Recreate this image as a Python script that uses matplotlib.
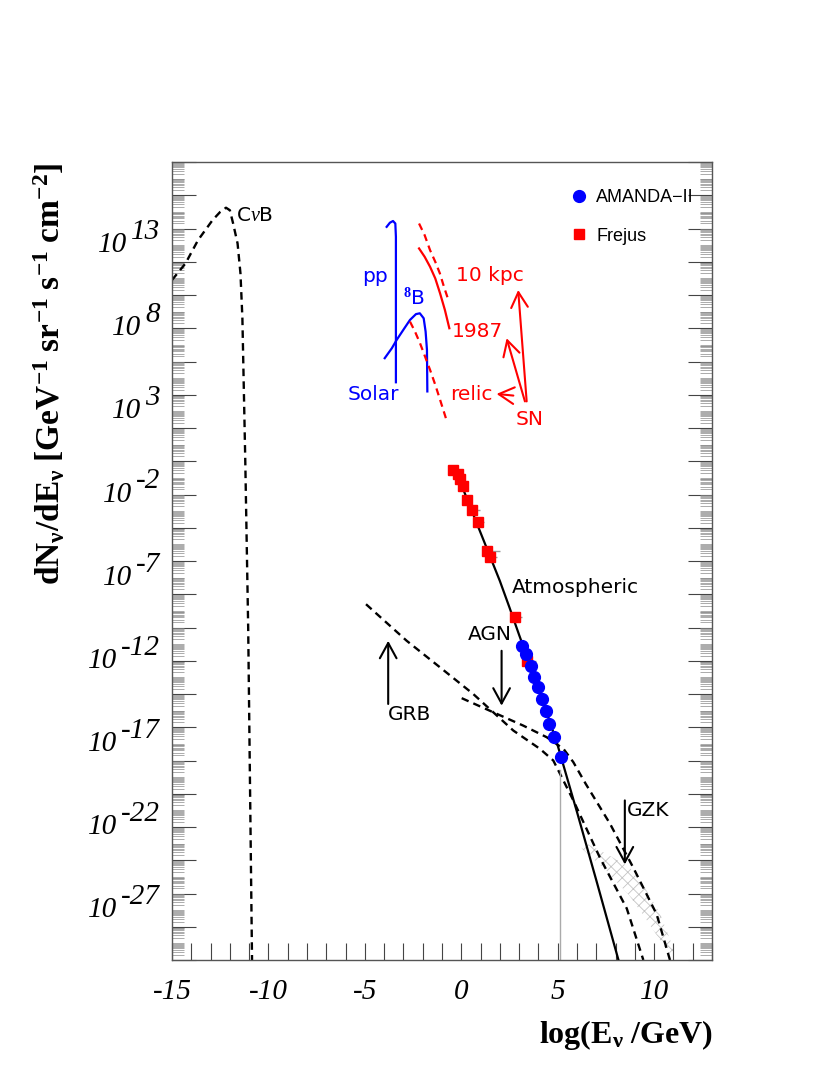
import numpy as np
import matplotlib
matplotlib.use("Agg")
import matplotlib.pyplot as plt
from matplotlib.ticker import LogLocator, NullFormatter, FixedLocator, MultipleLocator
from matplotlib.lines import Line2D

plt.rcParams['mathtext.fontset'] = 'custom'
plt.rcParams['mathtext.rm'] = 'Liberation Serif'
plt.rcParams['mathtext.it'] = 'Liberation Serif:italic'
plt.rcParams['mathtext.bf'] = 'Liberation Serif:bold'
plt.rcParams['hatch.linewidth'] = 0.6

# ---------------- data (x = log10(E/GeV), y = log10 flux) ----------------
cnub_x = [-15.0, -14.3, -13.65, -12.9, -12.5, -12.2, -12.0, -11.83, -11.6, -11.45, -11.35, -11.2, -11.05, -10.95, -10.85]
cnub_y = [10.9, 11.9, 13.3, 14.5, 15.0, 15.25, 15.1, 14.3, 13.1, 11.3, 8.6, 0.0, -10.0, -20.0, -30.0]

pp_x = [-3.87, -3.7, -3.54, -3.42, -3.39, -3.39]
pp_y = [14.1, 14.35, 14.45, 14.3, 13.5, 4.75]

b8_x = [-3.97, -3.6, -3.35, -2.95, -2.66, -2.35, -2.15, -1.95, -1.85, -1.78, -1.76]
b8_y = [6.2, 6.8, 7.3, 8.0, 8.5, 8.85, 8.9, 8.6, 7.8, 6.7, 4.2]

sn10_x = [-2.19, -1.9, -1.62, -1.35, -1.11, -0.9, -0.67]
sn10_y = [14.3, 13.6, 12.7, 12.0, 11.3, 10.5, 9.7]

sn87_x = [-2.19, -1.9, -1.62, -1.35, -1.1, -0.85, -0.62]
sn87_y = [12.8, 12.3, 11.7, 11.0, 10.1, 9.1, 8.0]

relic_x = [-2.66, -2.4, -2.14, -1.88, -1.62, -1.35, -1.1, -0.79]
relic_y = [8.4, 7.8, 7.1, 6.3, 5.5, 4.6, 3.7, 2.56]

atm_x = [0.0, 0.5, 1.0, 1.5, 2.0, 2.5, 3.0, 3.5, 4.0, 4.5, 5.0, 5.5, 6.0, 7.0, 8.15]
atm_y = [-1.4, -2.85, -4.3, -5.75, -7.2, -8.8, -10.45, -12.05, -13.7, -15.35, -17.1, -19.1, -21.1, -25.2, -30.0]

frejus_x = [-0.45, -0.15, -0.07, 0.10, 0.31, 0.54, 0.88, 1.35, 1.49, 2.78, 3.42]
frejus_y = [-0.55, -0.76, -1.05, -1.46, -2.36, -2.92, -3.67, -5.37, -5.78, -9.39, -12.0]
frejus_xerr = [0.0, 0.0, 0.0, 0.0, 0.2, 0.43, 0.3, 0.65, 0.35, 0.35, 0.45]

amanda_x = [3.13, 3.36, 3.60, 3.77, 3.99, 4.20, 4.39, 4.56, 4.81, 5.17]
amanda_y = [-11.1, -11.6, -12.3, -12.96, -13.6, -14.3, -15.0, -15.8, -16.6, -17.8]

grb_x = [-4.94, -2.83, -1.1, 0.62, 1.66, 2.7, 4.08, 4.77, 5.12, 5.81, 7.19, 8.58, 9.44]
grb_y = [-8.6, -10.8, -12.4, -14.0, -15.1, -16.2, -17.3, -18.0, -18.8, -20.4, -23.85, -26.9, -30.0]

agn_x = [0.02, 1.66, 3.21, 4.43, 5.3, 5.81, 6.45, 7.71, 8.92, 10.13, 10.82]
agn_y = [-14.25, -15.1, -15.9, -16.6, -17.3, -18.1, -19.4, -21.8, -24.45, -27.25, -30.0]

gzk_x = [6.25, 7.5, 8.7, 9.5, 10.3, 11.0]
gzk_hi = [-22.85, -23.6, -24.4, -25.6, -27.2, -29.3]
gzk_lo = [-23.3, -24.6, -26.1, -27.4, -28.8, -30.0]

amanda_cut_x = 5.12
amanda_cut_y = [-18.6, -30.0]

ytick_exps = [13, 8, 3, -2, -7, -12, -17, -22, -27]
xtick_vals = [-15, -10, -5, 0, 5, 10]
xtick_labels = ["-15", "-10", "-5", "0", "5", "10"]

# ---------------- figure ----------------
fig = plt.figure(figsize=(8.30, 10.75), dpi=100)
ax = fig.add_axes([172/830, 1-960/1075, 540/830, 798/1075])
ax.set_yscale('log')
ax.set_xlim(-15, 13)
ax.set_ylim(1e-30, 1e18)

def P(v):
    return np.power(10.0, np.asarray(v, dtype=float))

dash = (0, (3.2, 2.2))
ax.plot(cnub_x, P(cnub_y), color='black', lw=1.7, ls=dash)
ax.plot(pp_x, P(pp_y), color='blue', lw=1.6)
ax.plot(b8_x, P(b8_y), color='blue', lw=1.6)
ax.plot(sn10_x, P(sn10_y), color='red', lw=1.6, ls=dash)
ax.plot(sn87_x, P(sn87_y), color='red', lw=1.6)
ax.plot(relic_x, P(relic_y), color='red', lw=1.6, ls=dash)

ax.fill_between(gzk_x, P(gzk_lo), P(gzk_hi), facecolor='none', edgecolor='#c4c4c4',
                hatch='xxx', lw=0)
ax.plot(grb_x, P(grb_y), color='black', lw=1.7, ls=dash)
ax.plot(agn_x, P(agn_y), color='black', lw=1.7, ls=dash)
ax.plot([amanda_cut_x, amanda_cut_x], P(amanda_cut_y), color='#aaaaaa', lw=1.0)
ax.plot(atm_x, P(atm_y), color='black', lw=1.6, zorder=4)

ax.errorbar(frejus_x, P(frejus_y), xerr=[np.zeros(len(frejus_x)), frejus_xerr], fmt='none',
            ecolor='#999999', elinewidth=1.0, zorder=3)
ax.plot(frejus_x, P(frejus_y), ls='none', marker='s', ms=6.5, color='red', mec='red', zorder=5)
ax.plot(amanda_x, P(amanda_y), ls='none', marker='o', ms=8.5, color='blue', mec='blue', zorder=5)

# ---------------- texts & arrows ----------------
sans = 'DejaVu Sans'
fs = 14.5
ax.text(-11.7, P(14.8), r'C$\nu$B', fontsize=fs, family=sans, va='center', ha='left')
ax.text(-4.48, P(11.1), 'pp', fontsize=fs, family=sans, color='blue', ha='center', va='center')
ax.text(-2.45, P(9.8), r'$^{\mathbf{8}}$B', fontsize=fs, family=sans, color='blue', ha='center', va='center')
ax.text(-4.56, P(4.0), 'Solar', fontsize=fs, family=sans, color='blue', ha='center', va='center')
ax.text(1.48, P(11.2), '10 kpc', fontsize=fs, family=sans, color='red', ha='center', va='center')
ax.text(0.83, P(7.8), '1987', fontsize=fs, family=sans, color='red', ha='center', va='center')
ax.text(0.54, P(4.0), 'relic', fontsize=fs, family=sans, color='red', ha='center', va='center')
ax.text(3.56, P(2.5), 'SN', fontsize=fs, family=sans, color='red', ha='center', va='center')
ax.text(2.6, P(-7.6), 'Atmospheric', fontsize=fs, family=sans, ha='left', va='center')
ax.text(1.49, P(-10.4), 'AGN', fontsize=fs, family=sans, ha='center', va='center')
ax.text(-2.66, P(-15.25), 'GRB', fontsize=fs, family=sans, ha='center', va='center')
ax.text(8.6, P(-21.0), 'GZK', fontsize=fs, family=sans, ha='left', va='center')

def arrow(x0, y0, x1, y1, color):
    ax.annotate('', xy=(x1, P(y1)), xytext=(x0, P(y0)),
                arrowprops=dict(arrowstyle='->,head_length=0.55,head_width=0.3',
                                mutation_scale=20, color=color, lw=1.5,
                                shrinkA=0, shrinkB=0))

arrow(3.39, 3.6, 2.95, 10.3, 'red')
arrow(3.30, 3.6, 2.35, 7.4, 'red')
arrow(2.70, 3.95, 1.83, 4.05, 'red')
arrow(2.09, -11.4, 2.09, -14.7, 'black')
arrow(-3.79, -14.6, -3.79, -10.8, 'black')
arrow(8.48, -20.4, 8.48, -24.25, 'black')

# legend
h1 = Line2D([], [], ls='none', marker='o', ms=8.5, color='blue')
h2 = Line2D([], [], ls='none', marker='s', ms=6.5, color='red')
leg = ax.legend([h1, h2], ['AMANDA\u2212II', 'Frejus'], loc='upper left',
                bbox_to_anchor=((561-172)/540, 1-(180-162)/798), frameon=False,
                prop={'family': 'Liberation Sans', 'size': 13}, handletextpad=0.45, labelspacing=1.2,
                handlelength=1.0, borderpad=0)

# ---------------- axes / ticks ----------------
ax.yaxis.set_major_locator(FixedLocator(P(np.arange(-30, 19, 2))))
ax.yaxis.set_minor_locator(LogLocator(base=10, subs=np.arange(1, 10), numticks=200))
ax.yaxis.set_major_formatter(NullFormatter())
ax.yaxis.set_minor_formatter(NullFormatter())
ax.tick_params(axis='y', which='major', direction='in', length=17, width=0.8, left=True, right=True, color='#444444')
ax.tick_params(axis='y', which='minor', direction='in', length=8.5, width=0.5, left=True, right=True, color='#8a8a8a')

ax.set_xticks(xtick_vals)
ax.set_xticklabels(xtick_labels, fontsize=21, family='Liberation Serif', style='italic')
ax.xaxis.set_minor_locator(MultipleLocator(1))
ax.tick_params(axis='x', which='both', direction='in', length=12, width=0.8, top=False, bottom=True,
               color='#444444', pad=14)
for sp in ax.spines.values():
    sp.set_linewidth(1.0)
    sp.set_color('#555555')

# y tick labels as "10" with raised exponent
for e in ytick_exps:
    ex = ax.annotate(str(e), xy=(-0.022, P(e)), xycoords=('axes fraction', 'data'),
                     xytext=(0, 13), textcoords='offset pixels', ha='right', va='center',
                     fontsize=21, family='Liberation Serif', style='italic', annotation_clip=False)
    ax.annotate('10', xy=(0, 0.5), xycoords=ex, xytext=(-4, -13), textcoords='offset pixels',
                ha='right', va='center', fontsize=21, family='Liberation Serif', style='italic',
                annotation_clip=False)

fig.text(50/830, 1-374/1075,
         r'$\mathbf{dN_{\nu}/dE_{\nu}\ [GeV^{-1}\ sr^{-1}\ s^{-1}\ cm^{-2}]}$',
         rotation=90, ha='center', va='center', fontsize=24)
fig.text(713/830, 1-1035/1075, r'$\mathbf{log(E_{\nu}\ /GeV)}$', ha='right', va='center', fontsize=23)

fig.savefig('out.png', dpi=100)
